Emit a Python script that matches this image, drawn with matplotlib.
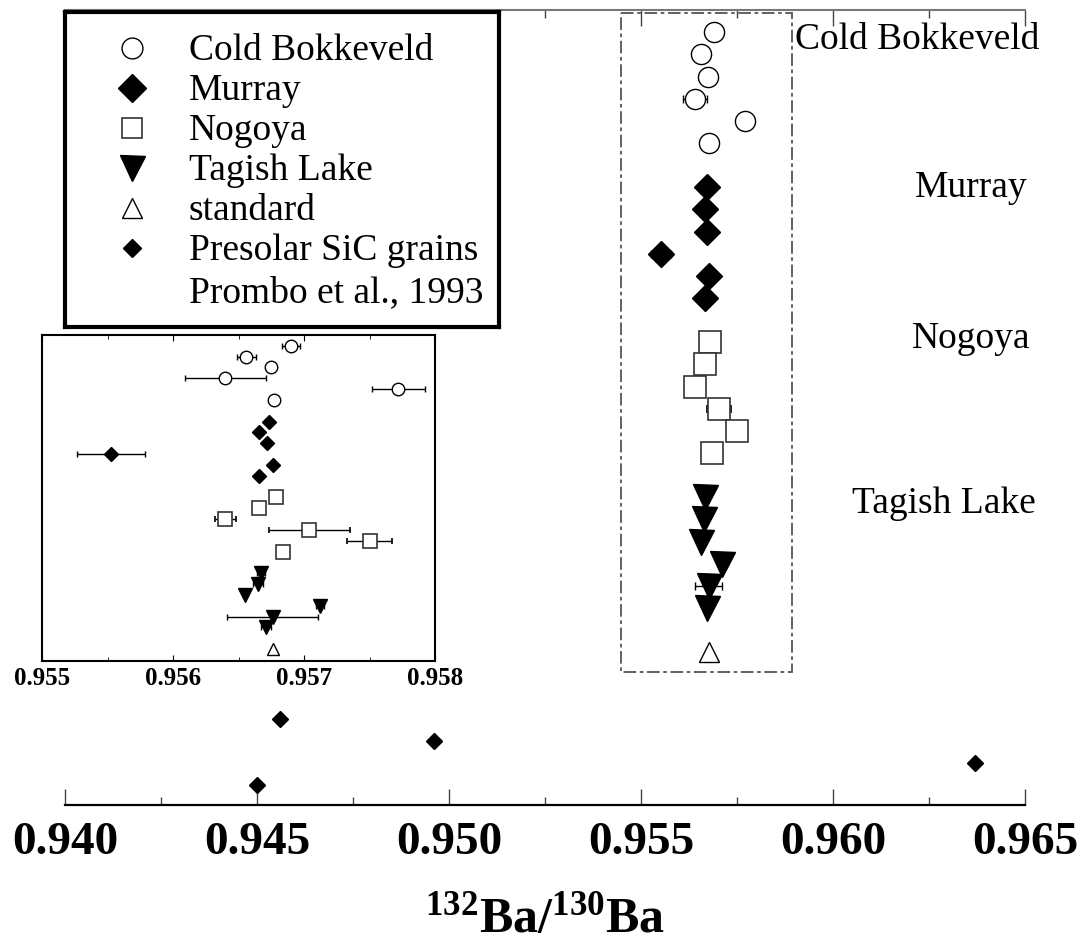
import matplotlib
matplotlib.use("Agg")
import matplotlib.pyplot as plt
from matplotlib.patches import Rectangle
from matplotlib.ticker import MultipleLocator
import numpy as np

plt.rcParams['font.family'] = ['Liberation Serif', 'DejaVu Serif']
plt.rcParams['mathtext.fontset'] = 'custom'
plt.rcParams['mathtext.rm'] = 'Liberation Serif'
plt.rcParams['mathtext.bf'] = 'Liberation Serif:bold'

# 132Ba/130Ba ratios and 2-sigma errors, one row per measurement
cb_x = [0.95690, 0.95656, 0.95675, 0.95640, 0.95772, 0.95677]
cb_err = [0.00007, 0.00007, 0.0, 0.00031, 0.00020, 0.0]
murray_x = [0.95673, 0.95666, 0.95672, 0.95553, 0.95676, 0.95666]
murray_err = [0.0, 0.0, 0.0, 0.00026, 0.0, 0.0]
nogoya_x = [0.95679, 0.95666, 0.95640, 0.95704, 0.95750, 0.95684]
nogoya_err = [0.0, 0.0, 0.00008, 0.00031, 0.00017, 0.0]
tagish_x = [0.95667, 0.95665, 0.95655, 0.95712, 0.95676, 0.95671]
tagish_err = [0.00003, 0.00004, 0.0, 0.00003, 0.00035, 0.00004]
standard_x = [0.95676]
presolar_x = [0.9456, 0.9496, 0.9637, 0.9450]   # Prombo et al., 1993

# row positions (one empty row between groups)
cb_rows = [0, 1, 2, 3, 4, 5]
murray_rows = [7, 8, 9, 10, 11, 12]
nogoya_rows = [14, 15, 16, 17, 18, 19]
tagish_rows = [21, 22, 23, 24, 25, 26]
standard_rows = [28]
presolar_rows = [31, 32, 33, 34]

group_names = ['Cold Bokkeveld', 'Murray', 'Nogoya', 'Tagish Lake']
legend_names = ['Cold Bokkeveld', 'Murray', 'Nogoya', 'Tagish Lake',
                'standard', 'Presolar SiC grains', 'Prombo et al., 1993']


def draw_groups(ax, big):
    if big:
        sz = dict(o=14.5, D=13.5, s=15.5, v=18, up=15)
    else:
        sz = dict(o=9, D=7, s=9.5, v=9.5, up=9)
    eb = dict(ecolor='black', elinewidth=1, capsize=3 if big else 2.5,
              capthick=1, ls='none', zorder=2)
    ax.errorbar(cb_x, cb_rows, xerr=cb_err, marker='o', ms=sz['o'],
                mfc='white', mec='black', mew=1, **eb)
    ax.errorbar(murray_x, murray_rows, xerr=murray_err, marker='D', ms=sz['D'],
                mfc='black', mec='black', mew=1, **eb)
    ax.errorbar(nogoya_x, nogoya_rows, xerr=nogoya_err, marker='s', ms=sz['s'],
                mfc='white', mec='#333333', mew=1.2, **eb)
    ax.errorbar(tagish_x, tagish_rows, xerr=tagish_err, marker='v', ms=sz['v'],
                mfc='black', mec='black', mew=1, **eb)
    ax.plot(standard_x, standard_rows, ls='none', marker='^', ms=sz['up'],
            mfc='white', mec='black', mew=1, zorder=3)


fig = plt.figure(figsize=(10.87, 9.43), dpi=100)

# main axis
ax = fig.add_axes([65 / 1087, 1 - 805 / 943, 960 / 1087, 795.5 / 943])
draw_groups(ax, big=True)
ax.plot(presolar_x, presolar_rows, ls='none', marker='D', ms=8,
        mfc='black', mec='black')

ax.set_xlim(0.940, 0.965)
ax.set_ylim(34.9, -1.03)
ax.xaxis.set_major_locator(MultipleLocator(0.005))
ax.xaxis.set_minor_locator(MultipleLocator(0.0025))
ax.xaxis.set_major_formatter(matplotlib.ticker.FormatStrFormatter('%.3f'))
ax.set_yticks([])
for side in ['left', 'right']:
    ax.spines[side].set_visible(False)
ax.spines['bottom'].set_linewidth(1.6)
ax.spines['top'].set_color('#777777')
ax.spines['top'].set_linewidth(1.5)
ax.tick_params(axis='x', which='both', direction='in', top=True, bottom=True,
               width=1, color='#444444')
ax.tick_params(axis='x', which='major', length=11.5, pad=12)
ax.tick_params(axis='x', which='minor', length=6)
for lab in ax.get_xticklabels():
    lab.set_fontsize(34)
    lab.set_fontweight('bold')
ax.set_xlabel(r'$\mathbf{^{132}Ba/^{130}Ba}$', fontsize=36, labelpad=24)

# zoomed region marker
ax.add_patch(Rectangle((0.95448, -0.86), 0.00445, 29.76, fill=False,
                       ec='#555555', lw=1.3, ls=(0, (7, 2, 2, 2)), zorder=1))

# group names on the right
ax.text(0.95901, 0.77, group_names[0], fontsize=27, va='baseline', ha='left')
ax.text(0.96214, 7.45, group_names[1], fontsize=27, va='baseline', ha='left')
ax.text(0.96206, 14.27, group_names[2], fontsize=27, va='baseline', ha='left')
ax.text(0.96049, 21.7, group_names[3], fontsize=27, va='baseline', ha='left')

# inset with the meteorite data
axi = fig.add_axes([42 / 1087, 1 - 661 / 943, 393 / 1087, 326 / 943])
draw_groups(axi, big=False)
axi.set_xlim(0.955, 0.958)
axi.set_ylim(29.1, -1.0)
axi.set_yticks([])
axi.xaxis.set_major_locator(MultipleLocator(0.001))
axi.xaxis.set_minor_locator(MultipleLocator(0.0005))
axi.xaxis.set_major_formatter(matplotlib.ticker.FormatStrFormatter('%.3f'))
for sp in axi.spines.values():
    sp.set_linewidth(1.5)
axi.tick_params(axis='x', which='both', direction='in', top=True, bottom=True)
axi.tick_params(axis='x', which='major', length=4.5, pad=4)
axi.tick_params(axis='x', which='minor', length=3)
for lab in axi.get_xticklabels():
    lab.set_fontsize(18)
    lab.set_fontweight('bold')

# legend box
axl = fig.add_axes([65 / 1087, 1 - 327 / 943, 434 / 1087, 315 / 943])
axl.set_xlim(65, 499)
axl.set_ylim(327, 12)
axl.set_xticks([])
axl.set_yticks([])
for sp in axl.spines.values():
    sp.set_linewidth(3)
leg_styles = [
    dict(marker='o', ms=15, mfc='white', mec='black', mew=1),
    dict(marker='D', ms=14, mfc='black', mec='black'),
    dict(marker='s', ms=15, mfc='white', mec='#333333', mew=1.2),
    dict(marker='v', ms=18, mfc='black', mec='black'),
    dict(marker='^', ms=15, mfc='white', mec='black', mew=1),
    dict(marker='D', ms=9, mfc='black', mec='black'),
]
baselines = [60, 100, 140, 180, 220, 260, 302]
for i, name in enumerate(legend_names):
    if i < len(leg_styles):
        axl.plot([132], [baselines[i] - 12], ls='none', **leg_styles[i])
    axl.text(189, baselines[i], name, fontsize=27, va='baseline', ha='left')

fig.savefig('out.png', dpi=100)
